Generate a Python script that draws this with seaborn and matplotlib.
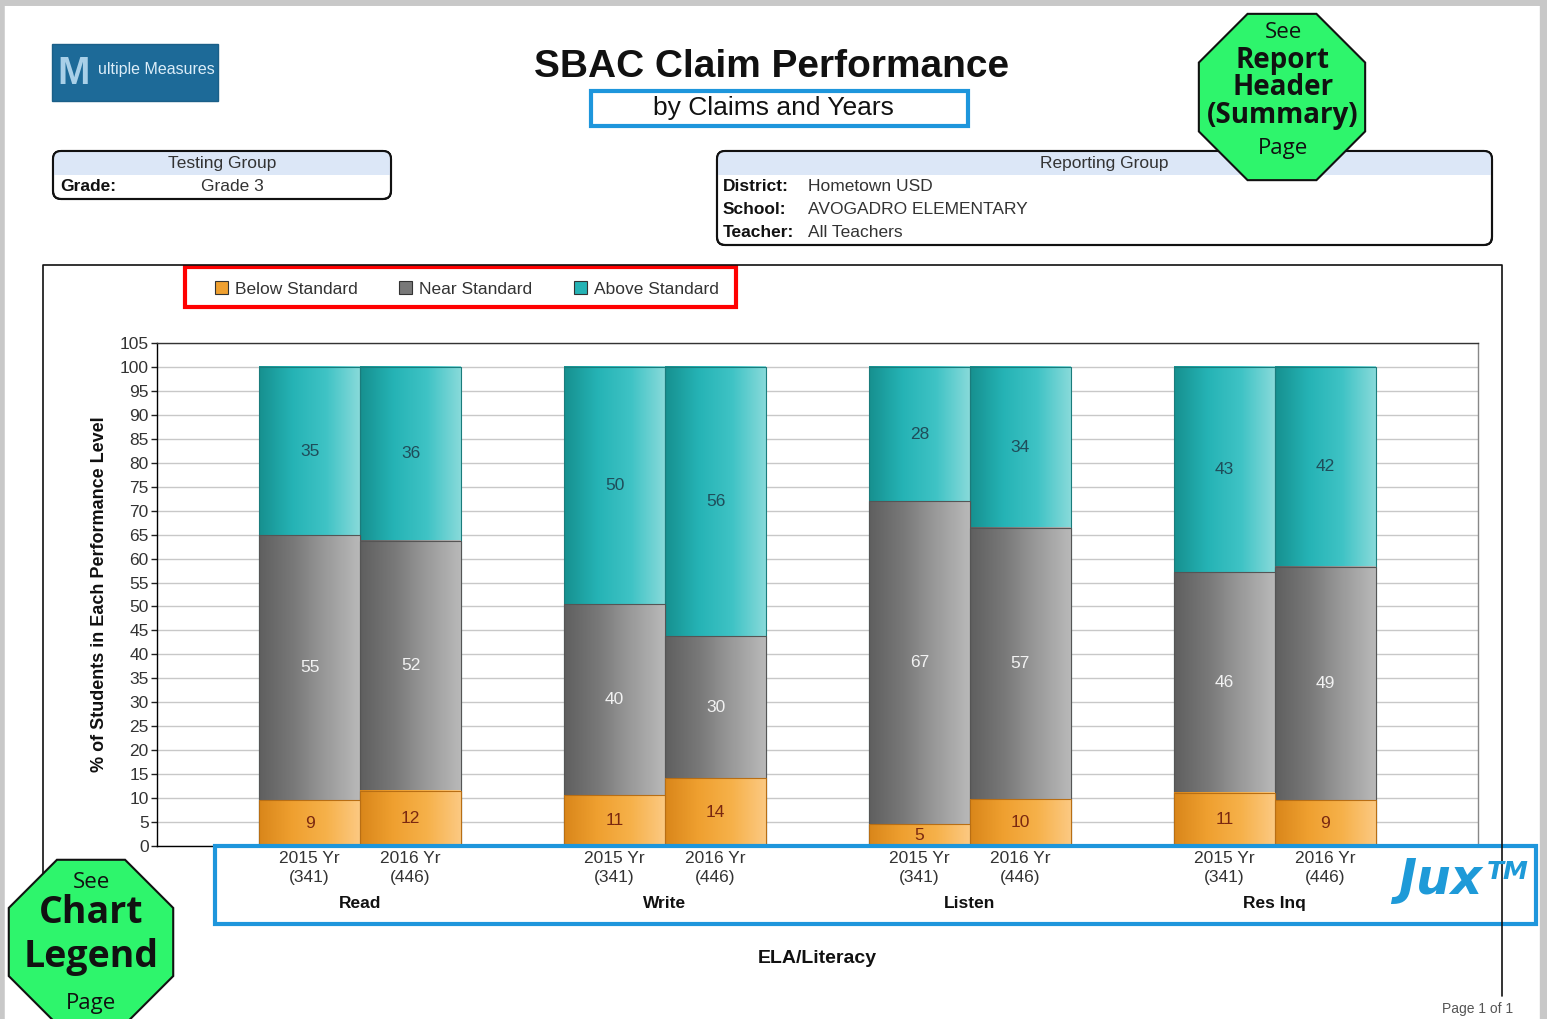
import numpy as np
import pandas as pd
import matplotlib.pyplot as plt
import seaborn as sns
from matplotlib.colors import LinearSegmentedColormap
from matplotlib.patches import Rectangle, FancyBboxPatch, RegularPolygon, Patch

# ---- data ----
claims = ["Read", "Write", "Listen", "Res Inq"]
years = ["2015 Yr", "2016 Yr"]
counts = ["(341)", "(446)"]
levels = ["Below Standard", "Near Standard", "Above Standard"]

# % of students per level, rows: Read 2015, Read 2016, Write 2015, ...
below = [9.5, 11.5, 10.6, 14.1, 4.5, 9.8, 11.1, 9.5]
near = [55.4, 52.2, 39.9, 29.7, 67.5, 56.6, 46.0, 48.8]
above = [35.1, 36.3, 49.5, 56.2, 28.0, 33.6, 42.9, 41.7]

# rounded numbers printed on the bars
below_lbl = [9, 12, 11, 14, 5, 10, 11, 9]
near_lbl = [55, 52, 40, 30, 67, 57, 46, 49]
above_lbl = [35, 36, 50, 56, 28, 34, 43, 42]

df = pd.DataFrame({
    "claim": np.repeat(claims, 2),
    "year": years * len(claims),
    "below": below,
    "near": near,
    "above": above,
})
df["near_top"] = df["below"] + df["near"]
df["total"] = df["near_top"] + df["above"]

teal = ["#16908f", "#25b3b5", "#3fc3c5", "#88dada"]
gray = ["#5f5f5f", "#787878", "#9a9a9a", "#b9b9b9"]
orange = ["#d9861a", "#efa030", "#f6b14a", "#fcc982"]

sns.set_theme(style="white")
plt.rcParams["font.family"] = ["Liberation Sans", "DejaVu Sans"]

W, H = 1547, 1019
fig = plt.figure(figsize=(W / 100, H / 100), dpi=100)
ax = fig.add_axes([157 / W, 1 - 846 / H, (1478 - 157) / W, (846 - 343) / H])

# stacked bars: draw cumulative layers tallest first
grad = np.linspace(0, 1, 256).reshape(1, -1)
layers = [("total", teal, "#1a7c7c"), ("near_top", gray, "#555555"), ("below", orange, "#b86e14")]
layer_patches = []
for i, (col, cols, edge) in enumerate(layers):
    n0 = len(ax.patches)
    sns.barplot(data=df, x="claim", y=col, hue="year", order=claims, hue_order=years,
                palette={y: cols[1] for y in years}, width=0.662, errorbar=None,
                legend=False, ax=ax)
    cmap = LinearSegmentedColormap.from_list(col, cols)
    patches = sorted(ax.patches[n0:], key=lambda p: p.get_x())
    for p in patches:
        x0, w = p.get_x(), p.get_width()
        y0, h = p.get_y(), p.get_height()
        ax.imshow(grad, cmap=cmap, extent=(x0, x0 + w, y0, y0 + h), aspect="auto",
                  interpolation="bicubic", zorder=2 + i * 0.1)
        p.set_facecolor("none")
        p.set_edgecolor(edge)
        p.set_linewidth(0.8)
        p.set_zorder(2.05 + i * 0.1)
    layer_patches.append(patches)

centers = [p.get_x() + p.get_width() / 2 for p in layer_patches[0]]

# value labels in the middle of each segment
for k, cx in enumerate(centers):
    ax.text(cx, below[k] / 2, str(below_lbl[k]), ha="center", va="center",
            fontsize=12.5, color="#7a2810", zorder=5)
    ax.text(cx, below[k] + near[k] / 2, str(near_lbl[k]), ha="center", va="center",
            fontsize=12.5, color="#f2f2f2", zorder=5)
    ax.text(cx, below[k] + near[k] + above[k] / 2, str(above_lbl[k]), ha="center",
            va="center", fontsize=12.5, color="#1f4d5a", zorder=5)

ax.set_xlim(-0.666, 3.666)
ax.set_ylim(0, 105)
ax.set_yticks(range(0, 106, 5))
ax.yaxis.grid(True, color="#c8c8c8", linewidth=1)
ax.xaxis.grid(False)
ax.set_axisbelow(True)

# year/count labels under each bar, claim name under each pair
ax.set_xticks(centers, minor=True)
ax.set_xticklabels([f"{years[k % 2]}\n{counts[k % 2]}" for k in range(len(centers))],
                   minor=True, linespacing=1.35)
ax.set_xticks(range(len(claims)))
ax.set_xticklabels(claims, fontweight="bold")
ax.tick_params(axis="x", which="minor", length=0, pad=3.5, labelsize=12.5, labelcolor="#333333")
ax.tick_params(axis="x", which="major", length=0, pad=36, labelsize=12.5, labelcolor="#111111")
ax.tick_params(axis="y", length=4, width=1, color="#222222", direction="out", pad=2,
               labelsize=12.5, labelcolor="#333333", left=True)

ax.set_ylabel("% of Students in Each Performance Level", fontsize=13, fontweight="bold",
              labelpad=8, color="#111111")
ax.set_xlabel("ELA/Literacy", fontsize=14, fontweight="bold", labelpad=28, color="#111111")

for side, c in [("left", "#000000"), ("bottom", "#000000"), ("top", "#333333"), ("right", "#888888")]:
    ax.spines[side].set_visible(True)
    ax.spines[side].set_color(c)
    ax.spines[side].set_linewidth(1)

# legend
handles = [Patch(facecolor=c, edgecolor="#333333", linewidth=0.8)
           for c in [orange[1], gray[1], teal[1]]]
fig.legend(handles, levels, ncol=3, loc="center left",
           bbox_to_anchor=(206 / W, 1 - 289 / H), frameon=False, fontsize=12.5,
           handlelength=0.75, handleheight=0.75, handletextpad=0.4, columnspacing=2.4,
           borderpad=0, labelcolor="#333333")

# ---- report decorations, drawn in pixel coordinates ----
ov = fig.add_axes([0, 0, 1, 1], zorder=10)
ov.set_xlim(0, W)
ov.set_ylim(H, 0)
ov.axis("off")
ov.patch.set_alpha(0)

# page border
ov.plot([2, 2], [0, H], color="#c8c8c8", lw=4)
ov.plot([0, W], [2, 2], color="#c8c8c8", lw=5)
ov.plot([W - 3, W - 3], [0, H], color="#c8c8c8", lw=6)

# chart frame
ov.plot([43, 43, 1502, 1502], [996, 265, 265, 996], color="#111111", lw=1.2)

# logo
ov.add_patch(Rectangle((52, 44), 166, 57, facecolor="#1d6a98", edgecolor="#1a5f88", lw=1))
ov.text(74, 74, "M", fontsize=28, fontweight="bold", color="#a9d0e8", ha="center", va="center")
ov.text(98, 69, "ultiple Measures", fontsize=11.5, color="#dcedf8", ha="left", va="center")

# title
ov.text(772, 67, "SBAC Claim Performance", fontsize=28, fontweight="bold", color="#111111",
        ha="center", va="center")
ov.text(773, 108, "by Claims and Years", fontsize=19, color="#111111", ha="center", va="center")
ov.add_patch(Rectangle((591, 91), 377, 35, fill=False, edgecolor="#1e96dc", lw=3))

# testing group box
box1 = FancyBboxPatch((53, 151), 338, 48, boxstyle="round,pad=0,rounding_size=8",
                      facecolor="white", edgecolor="#111111", lw=1.5)
ov.add_patch(box1)
band1 = Rectangle((53, 151), 338, 24, facecolor="#dce7f7", edgecolor="none")
ov.add_patch(band1)
band1.set_clip_path(box1)
ov.add_patch(FancyBboxPatch((53, 151), 338, 48, boxstyle="round,pad=0,rounding_size=8",
                            fill=False, edgecolor="#111111", lw=1.5))
ov.text(222, 163, "Testing Group", fontsize=12.5, color="#333333", ha="center", va="center")
ov.text(60, 186, "Grade:", fontsize=12.5, fontweight="bold", color="#111111", va="center")
ov.text(232, 186, "Grade 3", fontsize=12.5, color="#333333", ha="center", va="center")

# reporting group box
box2 = FancyBboxPatch((717, 151), 775, 94, boxstyle="round,pad=0,rounding_size=8",
                      facecolor="white", edgecolor="#111111", lw=1.5)
ov.add_patch(box2)
band2 = Rectangle((717, 151), 775, 24, facecolor="#dce7f7", edgecolor="none")
ov.add_patch(band2)
band2.set_clip_path(box2)
ov.add_patch(FancyBboxPatch((717, 151), 775, 94, boxstyle="round,pad=0,rounding_size=8",
                            fill=False, edgecolor="#111111", lw=1.5))
ov.text(1104, 163, "Reporting Group", fontsize=12.5, color="#333333", ha="center", va="center")
rows = [("District:", "Hometown USD", 186), ("School:", "AVOGADRO ELEMENTARY", 209),
        ("Teacher:", "All Teachers", 232)]
for lab, val, yy in rows:
    ov.text(723, yy, lab, fontsize=12.5, fontweight="bold", color="#111111", va="center")
    ov.text(808, yy, val, fontsize=12.5, color="#333333", va="center")

# red legend box
ov.add_patch(Rectangle((185, 267), 551, 40, fill=False, edgecolor="#ff0000", lw=3))

# blue x-label box
ov.add_patch(Rectangle((215, 846), 1321, 78, fill=False, edgecolor="#1e96dc", lw=3))

# Jux logo
ov.text(1440, 880, "Jux", fontsize=35, fontweight="bold", fontstyle="italic", color="#1e9ad8",
        family="DejaVu Sans", ha="center", va="center")
ov.text(1508, 872, "TM", fontsize=18, fontweight="bold", fontstyle="italic", color="#1e9ad8",
        family="DejaVu Sans", ha="center", va="center")

# green octagons (above the frame lines)
green = "#2ef56c"
ov.add_patch(RegularPolygon((1282, 97), 8, radius=90, orientation=np.pi / 8,
                            facecolor=green, edgecolor="#111111", lw=1.5, zorder=4))
for txt, yy, fs, fw in [("See", 32, 16, "normal"), ("Report", 60, 20, "bold"),
                        ("Header", 87, 20, "bold"), ("(Summary)", 115, 20, "bold"),
                        ("Page", 148, 16, "normal")]:
    ov.text(1283, yy, txt, fontsize=fs, fontweight=fw, family="Open Sans", color="#111111",
            ha="center", va="center", zorder=5)

ov.add_patch(RegularPolygon((91, 942), 8, radius=89, orientation=np.pi / 8,
                            facecolor=green, edgecolor="#111111", lw=1.5, zorder=4))
for txt, yy, fs, fw in [("See", 883, 16, "normal"), ("Chart", 913, 27, "bold"),
                        ("Legend", 957, 27, "bold"), ("Page", 1003, 16, "normal")]:
    ov.text(91, yy, txt, fontsize=fs, fontweight=fw, family="Open Sans", color="#111111",
            ha="center", va="center", zorder=5)

ov.text(1442, 1002, "Page 1 of 1", fontsize=10, color="#555555", ha="left", va="top")

fig.savefig("out.png", dpi=100)
